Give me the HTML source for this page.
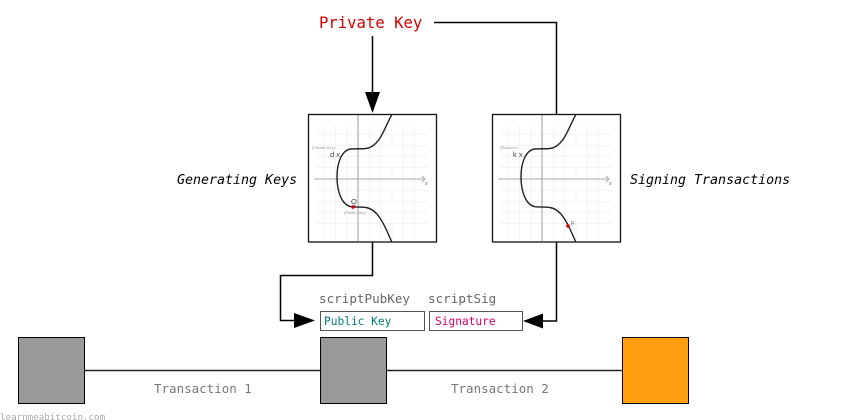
<!DOCTYPE html>
<html><head><meta charset="utf-8"><style>
html,body{margin:0;padding:0;background:#fff}
svg{display:block}
text{font-family:"DejaVu Sans Mono",monospace}
text.s{font-family:"Liberation Sans",sans-serif}
</style></head><body>
<svg width="862" height="420" viewBox="0 0 862 420" xmlns="http://www.w3.org/2000/svg">
<defs>
<g id="grid" stroke="#f3f3f3" stroke-width="1" fill="none">
<path d="M16 11V126M27.500 11V126M39 11V126M61.500 11V126M72.500 11V126M84 11V126M95 11V126M106.500 11V126"/>
<path d="M9 20.500H120M9 31.500H120M9 42.500H120M9 53.500H120M9 76.500H120M9 87.500H120M9 98.500H120M9 109.500H120"/>
</g>
<path id="curve" d="M83.700 1C77 12 72 33 58 34.500C54 35 48 34.500 43 35C34 36 29 48 29 63C29 78 34 91 43 92.700C48 93.300 53 92.800 58 93.500C72 96 78 116 83.700 127.500" stroke="#222" stroke-width="1.400" fill="none"/>
</defs>
<rect width="862" height="420" fill="#fff"/>

<!-- left chart -->
<g transform="translate(308,114)">
<rect x="0.500" y="0.500" width="128" height="127.500" fill="#fff"/>
<use href="#grid"/>
<path d="M50 1V127" stroke="#bbb" stroke-width="1.500" fill="none"/>
<path d="M6 65H116M114 62l3 3l-3 3" stroke="#aaa" stroke-width="1" fill="none"/>
<use href="#curve"/>
<circle cx="45" cy="93" r="1.800" fill="#c00"/>
<text class="s" x="4" y="35" font-size="4" fill="#999">(Private Key)</text>
<text class="s" x="22" y="43" font-size="7.500" fill="#444">d x</text>
<text class="s" x="43" y="90" font-size="7.500" fill="#444">Q</text>
<text class="s" x="36" y="100" font-size="4" fill="#999">(Public Key)</text>
<text class="s" x="117" y="71" font-size="5" fill="#666">x</text>
<rect x="0.500" y="0.500" width="128" height="127.500" fill="none" stroke="#111" stroke-width="1.300"/>
</g>

<!-- right chart -->
<g transform="translate(492,114)">
<rect x="0.500" y="0.500" width="128" height="127.500" fill="#fff"/>
<use href="#grid"/>
<path d="M50 1V127" stroke="#bbb" stroke-width="1.500" fill="none"/>
<path d="M6 65H116M114 62l3 3l-3 3" stroke="#aaa" stroke-width="1" fill="none"/>
<use href="#curve"/>
<circle cx="76" cy="112" r="1.800" fill="#c00"/>
<text class="s" x="8" y="35" font-size="4" fill="#999">(Random)</text>
<text class="s" x="21" y="43" font-size="7.500" fill="#444">k x</text>
<text class="s" x="79" y="111" font-size="5" fill="#666">R</text>
<text class="s" x="117" y="71" font-size="5" fill="#666">x</text>
<rect x="0.500" y="0.500" width="128" height="127.500" fill="none" stroke="#111" stroke-width="1.300"/>
</g>

<!-- connectors -->
<path d="M372.500 36V93" stroke="#000" stroke-width="1.500" fill="none"/>
<path d="M365 92H380L372.500 113Z" fill="#000"/>
<path d="M434 22.500H556.500V114" stroke="#000" stroke-width="1.500" fill="none"/>
<path d="M372.500 242V275.500H280.500V320.500H296" stroke="#000" stroke-width="1.500" fill="none"/>
<path d="M294 313V328L315 320.500Z" fill="#000"/>
<path d="M556.500 242V321H540" stroke="#000" stroke-width="1.500" fill="none"/>
<path d="M543 313.500V328.500L523 321Z" fill="#000"/>

<!-- boxes -->
<rect x="320.500" y="311.500" width="104" height="19" fill="#fff" stroke="#555"/>
<rect x="429.500" y="311.500" width="93" height="19" fill="#fff" stroke="#555"/>
<rect x="18.500" y="337.500" width="66" height="66" fill="#999" stroke="#000"/>
<rect x="320.500" y="337.500" width="66" height="66" fill="#999" stroke="#000"/>
<rect x="622.500" y="337.500" width="66" height="66" fill="#ff9f0f" stroke="#000"/>
<path d="M85 370.500H320M387 370.500H622" stroke="#222" stroke-width="1.500" fill="none"/>

<!-- labels -->
<text x="319" y="28" font-size="15.600" fill="#d40000">Private Key</text>
<text x="177" y="184" font-size="13.300" font-style="italic" fill="#000">Generating Keys</text>
<text x="630" y="184" font-size="13.300" font-style="italic" fill="#000">Signing Transactions</text>
<text x="319" y="303" font-size="12.600" fill="#666">scriptPubKey</text>
<text x="428" y="303" font-size="12.600" fill="#666">scriptSig</text>
<text x="324" y="325" font-size="11.200" fill="#007777">Public Key</text>
<text x="435" y="325" font-size="11.200" fill="#d4006e">Signature</text>
<text x="154" y="393" font-size="12.500" fill="#777">Transaction 1</text>
<text x="451" y="393" font-size="12.500" fill="#777">Transaction 2</text>
<text x="0" y="420" font-size="9.200" fill="#aaa">learnmeabitcoin.com</text>
</svg>
</body></html>
